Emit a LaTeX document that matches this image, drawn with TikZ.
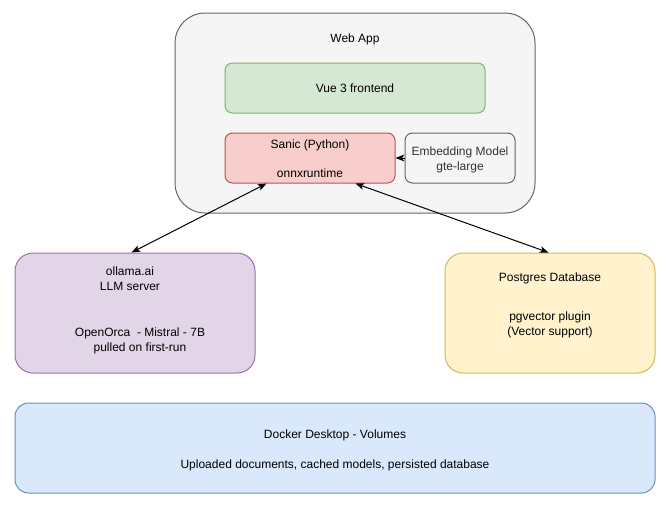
\documentclass[tikz,border=0pt]{standalone}
\usepackage{fontspec}
\setmainfont{Liberation Sans}
\usetikzlibrary{arrows.meta}
\definecolor{grayfill}{HTML}{F5F5F5}
\definecolor{graystroke}{HTML}{666666}
\definecolor{greenfill}{HTML}{D5E8D4}
\definecolor{greenstroke}{HTML}{82B366}
\definecolor{redfill}{HTML}{F8CECC}
\definecolor{redstroke}{HTML}{B85450}
\definecolor{purplefill}{HTML}{E1D5E7}
\definecolor{purplestroke}{HTML}{9673A6}
\definecolor{yellowfill}{HTML}{FFF2CC}
\definecolor{yellowstroke}{HTML}{D6B656}
\definecolor{bluefill}{HTML}{DAE8FC}
\definecolor{bluestroke}{HTML}{6C8EBF}
\definecolor{darktext}{HTML}{333333}
\begin{document}
\begin{tikzpicture}[x=0.75pt,y=-0.75pt,
  box/.style={draw, line width=0.75pt, inner sep=0pt},
  lbl/.style={inner sep=0pt, text height=6.5pt, text depth=0pt, font=\fontsize{9}{11}\selectfont},
  conn/.style={line width=0.75pt, {Stealth[length=6.5pt,width=5pt,inset=1.5pt]}-{Stealth[length=6.5pt,width=5pt,inset=1.5pt]}},
  oneway/.style={line width=0.75pt, -{Stealth[length=6.5pt,width=5pt,inset=1.5pt]}}
]
\useasboundingbox (0,0) rectangle (666,504);

\node[box, fill=grayfill, draw=graystroke, minimum width=270pt, minimum height=150pt, rounded corners=22.5pt] (webapp) at (355,113) {};
\node[box, fill=greenfill, draw=greenstroke, minimum width=195pt, minimum height=37.5pt, rounded corners=5.6pt] (vue) at (355,88) {};
\node[box, fill=redfill, draw=redstroke, minimum width=127.5pt, minimum height=37.5pt, rounded corners=5.6pt] (sanic) at (310,158) {};
\node[box, fill=grayfill, draw=graystroke, minimum width=82.5pt, minimum height=37.5pt, rounded corners=5.6pt] (embed) at (460,158) {};
\node[box, fill=purplefill, draw=purplestroke, minimum width=180pt, minimum height=90pt, rounded corners=13.5pt] (ollama) at (135,313) {};
\node[box, fill=yellowfill, draw=yellowstroke, minimum width=157.5pt, minimum height=90pt, rounded corners=13.5pt] (postgres) at (550,313) {};
\node[box, fill=bluefill, draw=bluestroke, minimum width=480pt, minimum height=67.5pt, rounded corners=10.1pt] (docker) at (335,448) {};

\node[lbl] (webapptxt) at (355,38) {Web App};
\node[lbl] (vuetxt) at (355,88) {Vue 3 frontend};
\node[lbl] (sanictxt1) at (310,144) {Sanic (Python)};
\node[lbl] (sanictxt2) at (310,173) {onnxruntime};
\node[lbl, text=darktext] (embedtxt1) at (460,151) {Embedding Model};
\node[lbl, text=darktext] (embedtxt2) at (460,166) {gte-large};
\node[lbl] (ollamatxt1) at (130,271) {ollama.ai};
\node[lbl] (ollamatxt2) at (130,286) {LLM server};
\node[lbl] (ollamatxt3) at (140,332) {OpenOrca\ \ - Mistral - 7B};
\node[lbl] (ollamatxt4) at (140,347) {pulled on first-run};
\node[lbl] (pgtxt1) at (550,277) {Postgres Database};
\node[lbl] (pgtxt2) at (550,316) {pgvector plugin};
\node[lbl] (pgtxt3) at (550,331) {(Vector support)};
\node[lbl] (dockertxt1) at (335,434) {Docker Desktop - Volumes};
\node[lbl] (dockertxt2) at (335,464) {Uploaded documents, cached models, persisted database};

\draw[conn] ([xshift=31.5pt]sanic.south west) -- ([xshift=87.75pt]ollama.north west);
\draw[conn] ([xshift=98.25pt]sanic.south west) -- ([xshift=78pt]postgres.north west);
\draw[oneway] (embed.west) -- (sanic.east);
\end{tikzpicture}
\end{document}
